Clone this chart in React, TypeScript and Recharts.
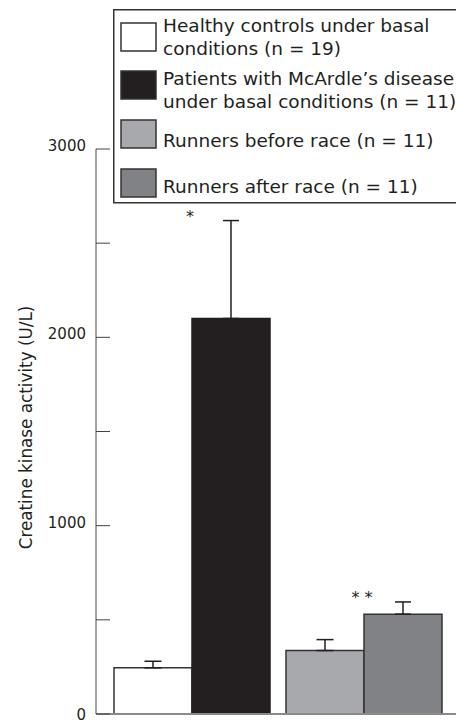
import React from 'react';
import { BarChart, Bar, XAxis, YAxis, Cell, ErrorBar, Legend, LabelList } from 'recharts';

const groups = ['Basal conditions', 'Runners'];
const firstValues = [245, 337];
const firstErrors = [35, 58];
const secondValues = [2100, 530];
const secondErrors = [520, 65];
const firstColors = ['#ffffff', '#a7a9ac'];
const secondColors = ['#231f20', '#808285'];
const secondMarks = ['*', '* *'];
const yTicks = [0, 500, 1000, 1500, 2000, 2500, 3000];
const yLabelTicks = [0, 1000, 2000, 3000];
const yTitle = 'Creatine kinase activity (U/L)';

const legendLines = [
  ['Healthy controls under basal', 'conditions (n = 19)'],
  ['Patients with McArdle\u2019s disease', 'under basal conditions (n = 11)'],
  ['Runners before race (n = 11)'],
  ['Runners after race (n = 11)'],
];
const legendColors = ['#ffffff', '#231f20', '#a7a9ac', '#808285'];

const data = groups.map((g, i) => ({
  group: g,
  first: firstValues[i],
  firstErr: [0, firstErrors[i]],
  second: secondValues[i],
  secondErr: [0, secondErrors[i]],
}));

const FONT = '"DejaVu Sans", sans-serif';
const INK = '#231f20';

const YTick = (props: any) => {
  const { x, y, payload } = props;
  const v = payload.value;
  return (
    <g>
      <line x1={x + 10} x2={x + 24} y1={y} y2={y} stroke="#444" strokeWidth={1} />
      {yLabelTicks.includes(v) && (
        <text
          x={x}
          y={y}
          dy={v === 0 ? 5.5 : 2}
          textAnchor="end"
          fontFamily={FONT}
          fontSize={15}
          fill={INK}
        >
          {v}
        </text>
      )}
    </g>
  );
};

const LegendBox = () => {
  const swatchY = [14, 62, 111, 160];
  const baselines = [[23, 46], [76, 99], [138], [184]];
  return (
    <svg width={360} height={196} style={{ display: 'block' }}>
      <rect x={0.75} y={0.75} width={358} height={193} fill="#fff" stroke="#333" strokeWidth={1.5} />
      {legendLines.map((lines, i) => (
        <g key={i}>
          <rect x={8} y={swatchY[i]} width={35} height={28} fill={legendColors[i]} stroke="#333" strokeWidth={1.5} />
          {lines.map((t, j) => (
            <text key={j} x={50} y={baselines[i][j]} fontFamily={FONT} fontSize={18.5} fill={INK}>
              {t}
            </text>
          ))}
        </g>
      ))}
    </svg>
  );
};

const Marks = (props: any) => {
  const { x, y, height, index } = props;
  const value = secondValues[index];
  const errPx = (secondErrors[index] * height) / value;
  return (
    <text
      x={x - 2}
      y={y - errPx + 1}
      textAnchor="middle"
      fontFamily={FONT}
      fontSize={16}
      fill={INK}
    >
      {secondMarks[index]}
    </text>
  );
};

export default function App() {
  return (
    <div style={{ position: 'absolute', left: 0, top: 0, width: 456, height: 721, background: '#fff' }}>
      <BarChart
        width={456}
        height={721}
        data={data}
        margin={{ top: 149, right: 0, bottom: 0, left: 0 }}
        barGap={0}
        barSize={78}
      >
        <XAxis
          dataKey="group"
          tick={false}
          tickLine={false}
          height={7}
          padding={{ left: 10, right: 6 }}
          axisLine={{ stroke: '#8a8a8a', strokeWidth: 2 }}
        />
        <YAxis
          width={96}
          domain={[0, 3000]}
          ticks={yTicks}
          interval={0}
          tickSize={0}
          tickMargin={10}
          tickLine={false}
          axisLine={{ stroke: '#444', strokeWidth: 1 }}
          tick={YTick}
          label={{
            content: (p: any) => {
              const vb = p.viewBox;
              const cy = vb.y + vb.height / 2 - 4;
              return (
                <text
                  x={26}
                  y={cy}
                  transform={`rotate(-90 26 ${cy})`}
                  textAnchor="middle"
                  dominantBaseline="central"
                  fontFamily={FONT}
                  fontSize={16.8}
                  fill={INK}
                >
                  {yTitle}
                </text>
              );
            },
          }}
        />
        <Legend
          layout="vertical"
          align="center"
          verticalAlign="middle"
          content={<LegendBox />}
          wrapperStyle={{ position: 'absolute', left: 113, top: 9, width: 360, height: 196 }}
        />
        <Bar dataKey="first" stroke="#333" strokeWidth={1.5} isAnimationActive={false}>
          {data.map((_, i) => (
            <Cell key={i} fill={firstColors[i]} />
          ))}
          <ErrorBar dataKey="firstErr" width={8.5} stroke={INK} strokeWidth={1.5} isAnimationActive={false} />
        </Bar>
        <Bar dataKey="second" stroke="#333" strokeWidth={1.5} isAnimationActive={false}>
          {data.map((_, i) => (
            <Cell key={i} fill={secondColors[i]} stroke={i === 0 ? secondColors[i] : '#333'} />
          ))}
          <ErrorBar dataKey="secondErr" width={8} stroke={INK} strokeWidth={1.5} isAnimationActive={false} />
          <LabelList dataKey="second" content={<Marks />} />
        </Bar>
      </BarChart>
    </div>
  );
}
